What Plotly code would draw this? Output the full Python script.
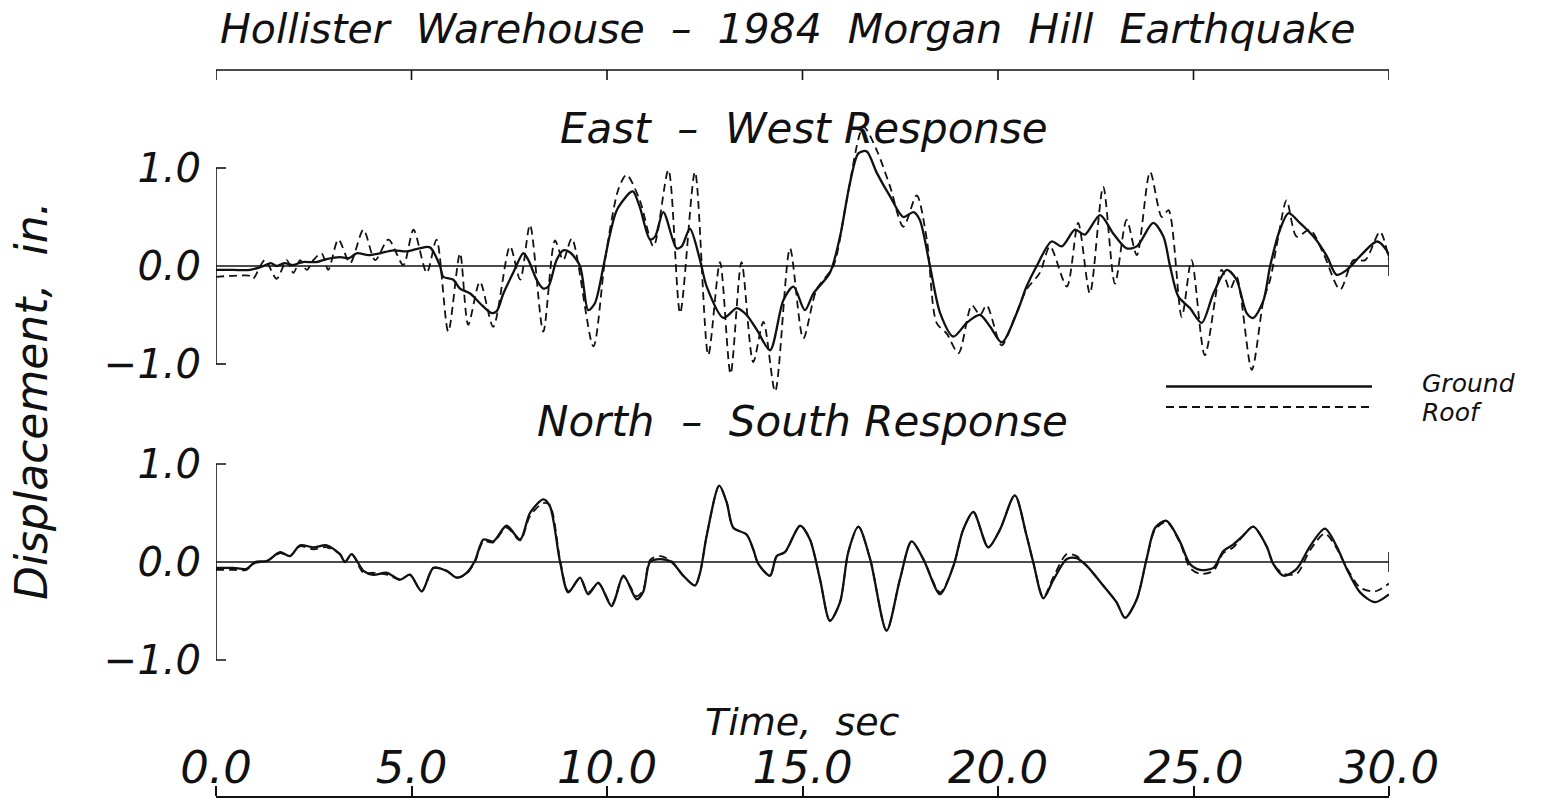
import plotly.graph_objects as go

# ---------------------------------------------------------------- data
# East-West response: ground (solid) and roof (dashed), displacement in inches
ew_ground_t = [0.0, 0.44, 0.87, 1.21, 1.4, 1.55, 1.75, 1.98, 2.2, 2.57, 2.83, 3.17, 3.4,
               3.6, 3.9, 4.19, 4.54, 4.88, 5.2, 5.47, 5.73, 5.81, 6.07, 6.24, 6.5, 6.75,
               7.05, 7.18, 7.35, 7.6, 7.86, 7.99, 8.2, 8.37, 8.5, 8.71, 8.88, 9.05, 9.31,
               9.52, 9.69, 9.91, 10.08, 10.25, 10.59, 10.67, 10.84, 11.1, 11.23, 11.44,
               11.78, 11.91, 12.12, 12.38, 12.55, 12.98, 13.32, 13.57, 13.83, 14.17,
               14.51, 14.77, 15.06, 15.28, 15.7, 15.96, 16.21, 16.43, 16.64, 16.9, 17.24,
               17.58, 17.84, 18.0, 18.26, 18.52, 18.86, 19.2, 19.54, 19.8, 20.1, 20.48,
               20.73, 20.99, 21.37, 21.63, 21.97, 22.22, 22.61, 22.95, 23.29, 23.55,
               23.97, 24.23, 24.4, 24.61, 24.91, 25.21, 25.51, 25.85, 26.1, 26.36, 26.53,
               26.79, 26.96, 27.21, 27.43, 27.72, 28.07, 28.41, 28.66, 28.92, 29.26,
               29.69, 29.94, 30.0]
ew_ground = [-0.04, -0.04, -0.04, 0.0, 0.03, 0.0, 0.03, 0.01, 0.04, 0.04, 0.07, 0.09, 0.08,
             0.13, 0.11, 0.13, 0.16, 0.15, 0.18, 0.19, 0.0, -0.11, -0.14, -0.23, -0.28,
             -0.38, -0.48, -0.46, -0.28, -0.07, 0.13, 0.06, -0.14, -0.23, -0.21, 0.06,
             0.16, 0.14, 0.0, -0.45, -0.38, 0.0, 0.33, 0.57, 0.75, 0.76, 0.6, 0.27, 0.3,
             0.55, 0.18, 0.2, 0.38, 0.06, -0.21, -0.53, -0.43, -0.5, -0.65, -0.86, -0.35,
             -0.21, -0.45, -0.28, -0.07, 0.3, 0.84, 1.15, 1.17, 0.95, 0.71, 0.5, 0.55,
             0.47, 0.0, -0.48, -0.72, -0.58, -0.5, -0.62, -0.78, -0.48, -0.21, 0.0, 0.25,
             0.2, 0.37, 0.32, 0.52, 0.33, 0.18, 0.2, 0.44, 0.3, 0.0, -0.31, -0.43, -0.58,
             -0.28, -0.04, -0.14, -0.48, -0.53, -0.35, 0.0, 0.37, 0.54, 0.44, 0.3, 0.1,
             -0.09, -0.04, 0.1, 0.25, 0.16, 0.1]

ew_roof_t = [0.0, 0.44, 0.87, 0.95, 1.25, 1.55, 1.81, 1.98, 2.15, 2.32, 2.49, 2.7, 2.87,
             3.13, 3.43, 3.77, 4.07, 4.41, 4.79, 5.05, 5.39, 5.64, 5.94, 6.24, 6.45, 6.75,
             7.09, 7.52, 7.78, 8.03, 8.37, 8.67, 8.88, 9.1, 9.65, 9.95, 10.29, 10.5,
             10.84, 11.19, 11.57, 11.87, 12.25, 12.59, 12.89, 13.16, 13.44, 13.74, 14.0,
             14.3, 14.68, 15.02, 15.36, 15.79, 16.13, 16.56, 16.9, 17.24, 17.58, 17.92,
             18.18, 18.43, 18.69, 18.99, 19.33, 19.54, 19.71, 20.09, 20.43, 20.73, 21.07,
             21.33, 21.76, 22.05, 22.35, 22.69, 22.99, 23.29, 23.55, 23.89, 24.19, 24.36,
             24.7, 24.95, 25.29, 25.72, 25.93, 26.1, 26.49, 26.79, 26.96, 27.17, 27.38,
             27.64, 27.98, 28.32, 28.75, 29.09, 29.39, 29.77, 30.0]
ew_roof = [-0.11, -0.1, -0.1, -0.13, 0.06, -0.13, 0.06, -0.07, 0.06, -0.04, 0.06, 0.13,
           -0.04, 0.27, 0.03, 0.37, 0.06, 0.27, 0.01, 0.37, -0.07, 0.27, -0.67, 0.13, -0.6,
           -0.16, -0.62, 0.2, -0.14, 0.42, -0.67, 0.26, 0.06, 0.28, -0.82, 0.06, 0.78, 0.93,
           0.67, 0.2, 0.98, -0.48, 0.96, -0.91, 0.04, -1.1, 0.04, -0.98, -0.57, -1.28, 0.18,
           -0.74, -0.24, 0.0, 0.67, 1.42, 1.18, 0.81, 0.4, 0.72, 0.27, -0.58, -0.69, -0.89,
           -0.4, -0.5, -0.4, -0.81, -0.52, -0.24, -0.07, 0.2, -0.21, 0.44, -0.28, 0.81,
           -0.18, 0.47, 0.11, 0.96, 0.5, 0.57, -0.52, 0.06, -0.91, -0.04, -0.24, -0.11,
           -1.06, -0.35, -0.14, 0.3, 0.67, 0.3, 0.37, 0.13, -0.24, 0.06, 0.06, 0.35, 0.06]

# North-South response: ground and roof share the same sample times
ns_t = [0.0, 0.44, 0.78, 1.0, 1.3, 1.64, 1.89, 2.15, 2.49, 2.83, 3.17, 3.3, 3.47, 3.77,
        4.02, 4.37, 4.71, 4.96, 5.26, 5.56, 5.9, 6.16, 6.41, 6.62, 6.84, 7.09, 7.43, 7.78,
        8.03, 8.37, 8.54, 8.8, 9.01, 9.31, 9.52, 9.78, 10.12, 10.42, 10.76, 10.93, 11.1,
        11.36, 11.65, 11.95, 12.25, 12.38, 12.55, 12.87, 13.06, 13.23, 13.57, 13.74,
        13.87, 14.17, 14.34, 14.55, 14.94, 15.19, 15.45, 15.7, 15.96, 16.17, 16.43,
        16.73, 17.15, 17.49, 17.79, 18.09, 18.52, 18.86, 19.11, 19.37, 19.75, 20.05,
        20.43, 20.73, 20.9, 21.16, 21.42, 21.76, 22.01, 22.27, 22.69, 23.03, 23.25,
        23.55, 23.8, 24.02, 24.31, 24.65, 24.91, 25.17, 25.51, 25.76, 26.02, 26.27,
        26.53, 26.87, 27.04, 27.3, 27.64, 27.98, 28.36, 28.66, 28.92, 29.26, 29.64, 30.0]
ns_ground = [-0.06, -0.06, -0.07, 0.0, 0.01, 0.1, 0.06, 0.17, 0.15, 0.17, 0.08, 0.0, 0.08,
             -0.09, -0.13, -0.11, -0.18, -0.13, -0.3, -0.06, -0.09, -0.16, -0.11, 0.01,
             0.23, 0.21, 0.37, 0.23, 0.5, 0.64, 0.57, 0.0, -0.31, -0.16, -0.33, -0.21,
             -0.45, -0.14, -0.38, -0.3, 0.0, 0.03, 0.0, -0.14, -0.24, -0.11, 0.27, 0.78,
             0.61, 0.35, 0.28, 0.13, -0.02, -0.14, 0.06, 0.1, 0.37, 0.23, -0.18, -0.6,
             -0.41, 0.1, 0.36, 0.03, -0.7, -0.18, 0.21, 0.03, -0.33, -0.04, 0.33, 0.51,
             0.15, 0.33, 0.68, 0.27, 0.0, -0.37, -0.18, 0.03, 0.04, -0.04, -0.24, -0.41,
             -0.57, -0.38, 0.03, 0.35, 0.42, 0.21, -0.02, -0.08, -0.06, 0.11, 0.18, 0.27,
             0.36, 0.16, -0.02, -0.14, -0.07, 0.16, 0.34, 0.16, -0.07, -0.31, -0.41, -0.33]
ns_roof = [-0.08, -0.08, -0.08, -0.01, 0.01, 0.09, 0.06, 0.16, 0.13, 0.15, 0.08, 0.0, 0.08,
           -0.11, -0.11, -0.13, -0.18, -0.13, -0.3, -0.06, -0.09, -0.16, -0.12, 0.0, 0.21,
           0.2, 0.35, 0.22, 0.47, 0.6, 0.58, 0.02, -0.3, -0.17, -0.31, -0.22, -0.43, -0.15,
           -0.35, -0.28, 0.02, 0.06, 0.01, -0.14, -0.24, -0.11, 0.27, 0.78, 0.61, 0.35,
           0.28, 0.13, -0.02, -0.14, 0.06, 0.1, 0.37, 0.23, -0.18, -0.6, -0.41, 0.1, 0.36,
           0.03, -0.7, -0.18, 0.21, 0.03, -0.31, -0.04, 0.33, 0.51, 0.15, 0.33, 0.68, 0.27,
           0.0, -0.36, -0.15, 0.08, 0.06, -0.04, -0.24, -0.41, -0.57, -0.38, 0.03, 0.33,
           0.41, 0.2, -0.06, -0.12, -0.09, 0.09, 0.15, 0.27, 0.36, 0.16, -0.02, -0.12,
           -0.12, 0.12, 0.29, 0.14, -0.06, -0.26, -0.3, -0.22]

x_ticks = [0, 5, 10, 15, 20, 25, 30]
x_tick_text = ["0.0", "5.0", "10.0", "15.0", "20.0", "25.0", "30.0"]
y_ticks = [-1, 0, 1]
y_tick_text = ["\u22121.0", "0.0", "1.0"]

# ---------------------------------------------------------------- layout helpers
W, H = 1561, 809
PLOT_L, PLOT_R = 216, 1389          # pixel extent of the time axis
T_MAX = 30.0
SEC_PER_PX = T_MAX / (PLOT_R - PLOT_L)
PX_PER_UNIT = 98.0                  # vertical pixels per inch of displacement


def py(p):
    """pixel row -> paper y"""
    return 1 - p / H


def px(p):
    """pixel column -> paper x"""
    return (p - PLOT_L) / (PLOT_R - PLOT_L)


def panel_domain(zero_px, lo, hi):
    return [py(zero_px - lo * PX_PER_UNIT), py(zero_px - hi * PX_PER_UNIT)]


EW_ZERO, NS_ZERO = 266, 562
EW_RANGE, NS_RANGE = [-1.45, 1.55], [-1.4, 1.4]

INK = "#111111"
FAMILY = "DejaVu Sans"
BASE_FONT = dict(family=FAMILY, color=INK, style="italic")
SP = "\u00a0"  # non-breaking space keeps the wide word gaps


def font(size):
    return dict(BASE_FONT, size=size)


def spaced(*words, gap=2):
    return (SP * gap).join(words)


solid = dict(color=INK, width=2.3, shape="spline", smoothing=0.8)
dashed = dict(color=INK, width=1.8, dash="8px,5px", shape="spline", smoothing=0.8)

fig = go.Figure()
fig.add_trace(go.Scatter(x=ew_ground_t, y=ew_ground, mode="lines", line=solid,
                         xaxis="x", yaxis="y", name="Ground", showlegend=False))
fig.add_trace(go.Scatter(x=ew_roof_t, y=ew_roof, mode="lines", line=dashed,
                         xaxis="x", yaxis="y", name="Roof", showlegend=False))
fig.add_trace(go.Scatter(x=ns_t, y=ns_ground, mode="lines", line=solid,
                         xaxis="x", yaxis="y2", name="Ground", showlegend=False))
fig.add_trace(go.Scatter(x=ns_t, y=ns_roof, mode="lines", line=dashed,
                         xaxis="x", yaxis="y2", name="Roof", showlegend=False))

yaxis_common = dict(anchor="x", tickvals=y_ticks, ticktext=y_tick_text, ticks="",
                    showline=False, showgrid=False, zeroline=False,
                    tickfont=font(40), ticklabelstandoff=14, fixedrange=True)

fig.update_layout(
    width=W, height=H, autosize=False,
    margin=dict(l=PLOT_L, r=W - PLOT_R, t=0, b=0, pad=0),
    paper_bgcolor="white", plot_bgcolor="white",
    font=font(36),
    xaxis=dict(range=[0, T_MAX], domain=[0, 1], anchor="free", position=py(797),
               side="top", showline=True, linecolor=INK, linewidth=1.6,
               ticks="outside", ticklen=10, tickwidth=1.6, tickcolor=INK,
               tickvals=x_ticks, ticktext=x_tick_text, tickfont=font(45),
               ticklabelstandoff=-15, showgrid=False, zeroline=False),
    yaxis=dict(yaxis_common, domain=panel_domain(EW_ZERO, *EW_RANGE), range=EW_RANGE),
    yaxis2=dict(yaxis_common, domain=panel_domain(NS_ZERO, *NS_RANGE), range=NS_RANGE),
)

shapes = []
line_style = dict(color=INK, width=1.6)
tick_dx = 10 * SEC_PER_PX
for yref in ("y", "y2"):
    # zero reference line with an end tick
    shapes.append(dict(type="line", xref="x", yref=yref, x0=0, x1=T_MAX, y0=0, y1=0,
                       line=line_style))
    shapes.append(dict(type="line", xref="x", yref=yref, x0=T_MAX, x1=T_MAX,
                       y0=-10 / PX_PER_UNIT, y1=10 / PX_PER_UNIT, line=line_style))
    # left bracket spanning -1 .. 1
    shapes.append(dict(type="line", xref="x", yref=yref, x0=0, x1=0, y0=-1, y1=1,
                       line=line_style))
    for yv in (-1, 1):
        shapes.append(dict(type="line", xref="x", yref=yref, x0=0, x1=tick_dx,
                           y0=yv, y1=yv, line=line_style))

# top frame line with downward ticks
TOP_Y = 70
shapes.append(dict(type="line", xref="x", yref="paper", x0=0, x1=T_MAX,
                   y0=py(TOP_Y), y1=py(TOP_Y), line=line_style))
for xv in x_ticks:
    shapes.append(dict(type="line", xref="x", yref="paper", x0=xv, x1=xv,
                       y0=py(TOP_Y), y1=py(TOP_Y + 10), line=line_style))

# legend samples
shapes.append(dict(type="line", xref="paper", yref="paper", x0=px(1166), x1=px(1372),
                   y0=py(386.5), y1=py(386.5), line=dict(color=INK, width=2.3)))
shapes.append(dict(type="line", xref="paper", yref="paper", x0=px(1166), x1=px(1372),
                   y0=py(407), y1=py(407), line=dict(color=INK, width=1.8, dash="8px,5px")))

annotations = [
    dict(text=spaced("Hollister", "Warehouse", "\u2013", "1984", "Morgan", "Hill", "Earthquake"),
         x=px(788), y=py(29), font=font(41)),
    dict(text=spaced("East", "\u2013", "West") + " Response", x=px(804), y=py(129),
         font=font(42)),
    dict(text=spaced("North", "\u2013", "South") + " Response", x=px(802), y=py(422),
         font=font(42)),
    dict(text=spaced("Time,", "sec"), x=px(802), y=py(722), font=font(38)),
    dict(text=spaced("Displacement,", "in."), x=px(32), y=py(401), textangle=-90,
         font=font(44)),
    dict(text="Ground", x=px(1420), y=py(383), xanchor="left", font=font(25)),
    dict(text="Roof", x=px(1420), y=py(412), xanchor="left", font=font(25)),
]
for a in annotations:
    a.setdefault("xanchor", "center")
    a.update(xref="paper", yref="paper", yanchor="middle", showarrow=False)

fig.update_layout(shapes=shapes, annotations=annotations)

fig.write_html("out.html")
